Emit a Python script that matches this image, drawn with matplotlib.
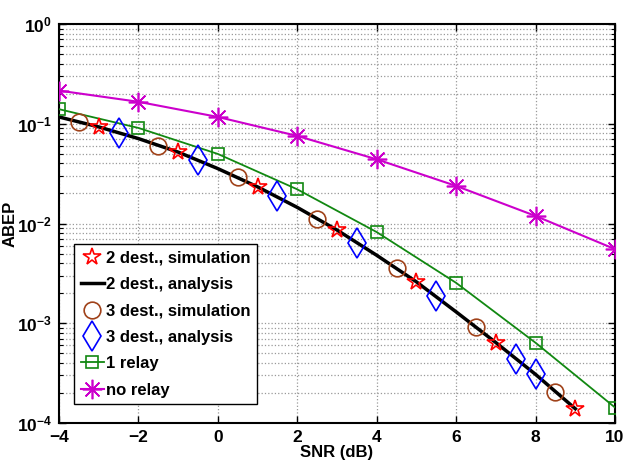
import matplotlib
matplotlib.use('Agg')
import matplotlib.pyplot as plt
import numpy as np

plt.rcParams['font.family'] = ['Liberation Sans', 'DejaVu Sans']
plt.rcParams['font.weight'] = 'bold'
plt.rcParams['mathtext.fontset'] = 'custom'
plt.rcParams['mathtext.rm'] = 'Liberation Sans:bold'
plt.rcParams['mathtext.bf'] = 'Liberation Sans:bold'
plt.rcParams['mathtext.default'] = 'bf'

# 2 dest., simulation
snr_sim2 = [-3, -1, 1, 3, 5, 7, 9]
abep_sim2 = [0.093, 0.052, 0.0233, 0.0086, 0.0026, 0.00064, 0.000139]

# 2 dest., analysis
snr_ana2 = [-4, -3, -2, -1, 0, 1, 2, 3, 4, 5, 6, 7, 8, 9]
abep_ana2 = [0.117, 0.093, 0.071, 0.052, 0.0355, 0.0233, 0.0145, 0.0086,
             0.0048, 0.0026, 0.0013, 0.00064, 0.000307, 0.000139]

# 3 dest., simulation
snr_sim3 = [-3.5, -1.5, 0.5, 2.5, 4.5, 6.5, 8.5]
abep_sim3 = [0.104, 0.0595, 0.0293, 0.011, 0.00354, 0.00092, 0.000203]

# 3 dest., analysis
snr_ana3 = [-2.5, -0.5, 1.5, 3.5, 5.5, 7.5, 8]
abep_ana3 = [0.0816, 0.043, 0.0188, 0.0064, 0.00187, 0.000443, 0.000307]

# 1 relay
snr_relay = [-4, -2, 0, 2, 4, 6, 8, 10]
abep_relay = [0.14, 0.0908, 0.0498, 0.022, 0.0082, 0.00254, 0.000637, 0.000143]

# no relay
snr_norelay = [-4, -2, 0, 2, 4, 6, 8, 10]
abep_norelay = [0.215, 0.166, 0.117, 0.0755, 0.044, 0.0238, 0.0119, 0.00553]

fig = plt.figure(figsize=(6.33, 4.67), dpi=100)
ax = fig.add_axes([0.0932, 0.0942, 0.8784, 0.8544])

ax.semilogy(snr_sim2, abep_sim2, linestyle='none', marker='*', color='red',
            mfc='none', ms=13, mew=1.2, label='2 dest., simulation', zorder=4)
ax.semilogy(snr_ana2, abep_ana2, color='black', lw=2.5, label='2 dest., analysis', zorder=3)
ax.semilogy(snr_sim3, abep_sim3, linestyle='none', marker='o', color='#a0421a',
            mfc='none', ms=12, mew=1.2, label='3 dest., simulation', zorder=4)
ax.semilogy(snr_ana3, abep_ana3, linestyle='none', marker='d', color='blue',
            mfc='none', ms=15, mew=1.2, label='3 dest., analysis', zorder=4)
ax.semilogy(snr_relay, abep_relay, color='#118811', lw=1.3, marker='s',
            mfc='none', ms=9, mew=1.2, label='1 relay', zorder=3)
ax.semilogy(snr_norelay, abep_norelay, color='#cc00cc', lw=1.5, marker=(8, 2, 0),
            ms=14, mew=1.2, label='no relay', zorder=3)

ax.set_xlim(-4, 10)
ax.set_ylim(1e-4, 1)
ax.set_xticks(np.arange(-4, 11, 2))
ax.set_xticklabels([str(v).replace('-', '\u2212') for v in range(-4, 11, 2)])
ax.set_yticks([1e-4, 1e-3, 1e-2, 1e-1, 1e0])
ax.set_yticklabels([r'$10^{%d}$' % e for e in [-4, -3, -2, -1, 0]])

ax.tick_params(which='both', direction='in', top=True, right=True, labelsize=12.5)
ax.tick_params(which='major', length=5, width=1, pad=5)
ax.tick_params(which='minor', length=3, width=0.8)
ax.grid(True, which='major', linestyle=':', color='#999999', lw=0.9)
ax.grid(True, which='minor', axis='y', linestyle=':', color='#999999', lw=0.9)
for s in ax.spines.values():
    s.set_linewidth(1.5)

ax.set_xlabel('SNR (dB)', fontsize=12, fontweight='bold', labelpad=0)
ax.set_ylabel('ABEP', fontsize=12, fontweight='bold')
ax.yaxis.set_label_coords(-0.075, 0.5)

leg = ax.legend(loc='lower left', bbox_to_anchor=(0.027, 0.047), fontsize=12,
                fancybox=False, edgecolor='black', framealpha=1,
                handlelength=1.4, handletextpad=0.1, borderpad=0.4,
                labelspacing=0.68, borderaxespad=0)
leg.get_frame().set_linewidth(1.0)

fig.savefig('out.png', dpi=100)
